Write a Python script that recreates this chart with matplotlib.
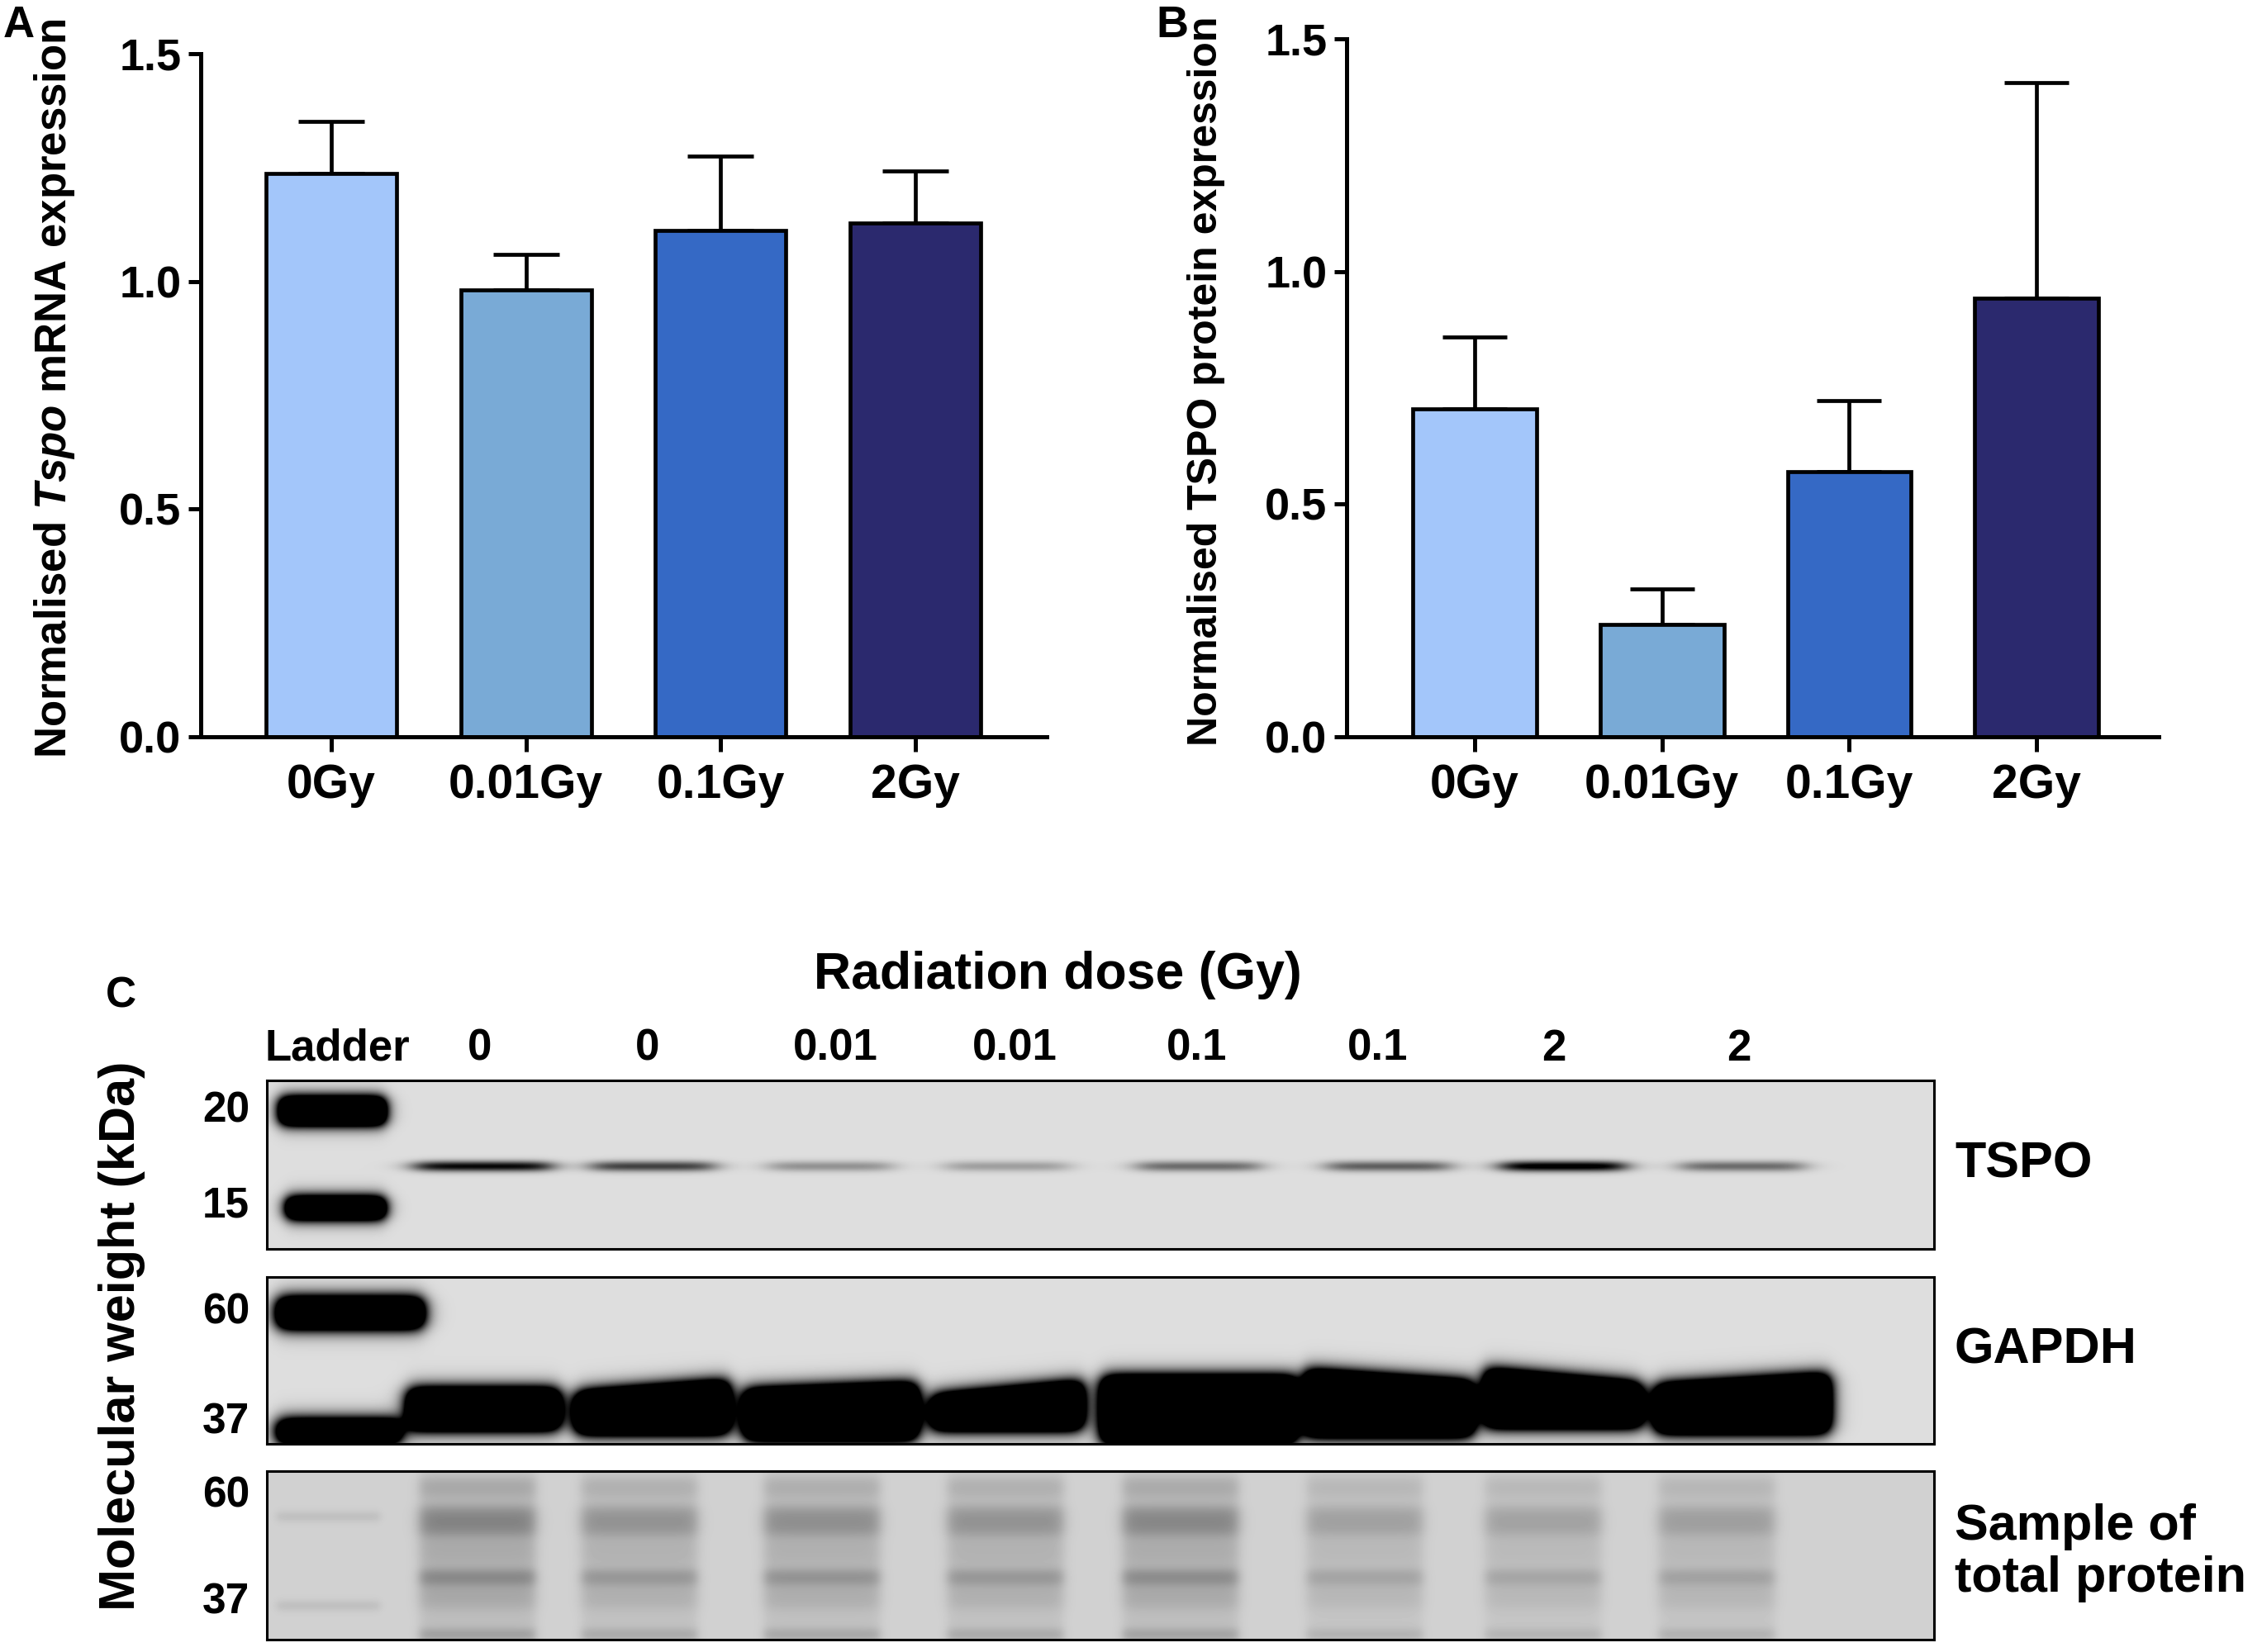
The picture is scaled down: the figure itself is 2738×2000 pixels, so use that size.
import numpy as np
import matplotlib
matplotlib.use("Agg")
import matplotlib.pyplot as plt

plt.rcParams['font.family'] = ['Liberation Sans', 'DejaVu Sans']
plt.rcParams['font.weight'] = 'bold'
plt.rcParams['mathtext.fontset'] = 'custom'
plt.rcParams['mathtext.rm'] = 'Liberation Sans:bold'
plt.rcParams['mathtext.it'] = 'Liberation Sans:italic:bold'
plt.rcParams['mathtext.bf'] = 'Liberation Sans:bold'
plt.rcParams['mathtext.bfit'] = 'Liberation Sans:italic:bold'

# ---------------- data ----------------
doses = ['0Gy', '0.01Gy', '0.1Gy', '2Gy']
mrna_mean = [1.237, 0.982, 1.111, 1.128]
mrna_sem = [0.114, 0.077, 0.164, 0.114]
prot_mean = [0.705, 0.241, 0.569, 0.942]
prot_sem = [0.155, 0.077, 0.153, 0.464]
bar_colors = ['#a3c6fa', '#79aad6', '#3569c5', '#2b296e']
yticks = [0.0, 0.5, 1.0, 1.5]

lane_labels = ['Ladder', '0', '0', '0.01', '0.01', '0.1', '0.1', '2', '2']
# relative band intensities read from the blot (0 = none, 1 = saturated)
tspo_intensity = [0.85, 0.62, 0.30, 0.25, 0.45, 0.50, 0.95, 0.45]
total_intensity = [1.0, 0.80, 0.85, 0.80, 0.95, 0.62, 0.60, 0.65]
mw_tspo = ['20', '15']
mw_gapdh = ['60', '37']
mw_total = ['60', '37']
blot_names = ['TSPO', 'GAPDH', 'Sample of\ntotal protein']

# ---------------- layout helpers ----------------
W, H = 2738, 2000
fig = plt.figure(figsize=(W / 100, H / 100), dpi=100)


def fx(x):
    return x / W


def fy(y):
    return 1 - y / H


def ax_px(l, t, r, b):
    return fig.add_axes([fx(l), fy(b), fx(r) - fx(l), (b - t) / H])


def bar_panel(ax, means, sems, xlim, width, capsize):
    x = np.arange(len(doses))
    ax.bar(x, means, width, color=bar_colors, edgecolor='black',
           linewidth=3.4, zorder=2)
    ax.errorbar(x, means, yerr=[np.zeros(len(means)), sems], fmt='none',
                ecolor='black', elinewidth=3.4, capsize=capsize,
                capthick=3.4, zorder=1)
    ax.set_xlim(*xlim)
    ax.set_ylim(0, 1.5)
    ax.set_yticks(yticks)
    ax.set_yticklabels([f'{v:.1f}' for v in yticks], fontsize=39,
                       fontweight='bold')
    ax.set_xticks(x)
    ax.set_xticklabels(doses, fontsize=41, fontweight='bold')
    for s in ['top', 'right']:
        ax.spines[s].set_visible(False)
    for s in ['left', 'bottom']:
        ax.spines[s].set_linewidth(3.6)
    ax.tick_params(axis='y', length=11, width=3.6, pad=6)
    ax.tick_params(axis='x', length=13, width=3.6, pad=10)


axA = ax_px(243, 65, 1267, 892)
bar_panel(axA, mrna_mean, mrna_sem, (-0.67, 3.675), 0.67, 29)
axB = ax_px(1630, 47, 2613, 892)
bar_panel(axB, prot_mean, prot_sem, (-0.684, 3.652), 0.66, 28)

fig.text(fx(4), fy(45), 'A', fontsize=38, fontweight='bold', va='baseline', ha='left')
fig.text(fx(1399), fy(45), 'B', fontsize=39, fontweight='bold', va='baseline', ha='left')
fig.text(fx(66), fy(470), r'Normalised $\mathbfit{Tspo}$ mRNA expression',
         fontsize=38, fontweight='bold', rotation=90, ha='center', va='center')
fig.text(fx(1460), fy(461), 'Normalised TSPO protein expression',
         fontsize=36, fontweight='bold', rotation=90, ha='center', va='center')

# ---------------- western blot panel ----------------
BX0, BX1 = 323, 2341
boxes = [(1308, 1512), (1546, 1748), (1781, 1985)]
lane_x = [585, 790, 1005, 1219, 1451, 1681, 1892, 2109]
label_x = [408, 581, 784, 1011, 1228, 1449, 1668, 1881, 2105]
total_x = [578, 774, 995, 1217, 1429, 1652, 1868, 2078]
gapdh_left = [494, 697, 901, 1128, 1334, 1580, 1798, 2004]
gapdh_right = [677, 882, 1110, 1310, 1568, 1783, 1987, 2214]
gapdh_top_l = [137, 141, 138, 145, 122, 114, 113, 132]
gapdh_top_r = [137, 127, 130, 128, 122, 128, 130, 119]
gapdh_bot = [183, 188, 195, 183, 200, 191, 180, 187]


def sig(z):
    return 1.0 / (1.0 + np.exp(-z))


def grid(t, b):
    xs = np.arange(BX0, BX1) + 0.5
    ys = np.arange(0, b - t) + 0.5
    return np.meshgrid(xs, ys)


def rect_band(X, Y, xa, xb, yt, yb, soft):
    return (sig((X - xa) / soft) * sig((xb - X) / soft) *
            sig((Y - yt) / soft) * sig((yb - Y) / soft))


def show_blot(t, b, D, bg):
    ax = ax_px(BX0, t, BX1, b)
    img = bg * (1 - np.clip(D, 0, 1))
    ax.imshow(img, cmap='gray', vmin=0, vmax=1, aspect='auto',
              extent=[BX0, BX1, b - t, 0], interpolation='bilinear')
    ax.set_xticks([])
    ax.set_yticks([])
    for s in ax.spines.values():
        s.set_linewidth(2.2)
    return ax


# TSPO blot
t, b = boxes[0]
X, Y = grid(t, b)
D = np.zeros_like(X)
D += 3 * rect_band(X, Y, 339, 466, 22, 52, 5)
D += 3 * rect_band(X, Y, 347, 466, 143, 166, 5)
for i, cx in enumerate(lane_x):
    hw = 82 if i == 0 else 74
    prof_x = sig((X - (cx - hw)) / 10) * sig(((cx + hw) - X) / 10)
    prof_y = np.exp(-0.5 * ((Y - 104) / 4.5) ** 2)
    D += tspo_intensity[i] * 1.15 * prof_x * prof_y
show_blot(t, b, D, 0.87)

# GAPDH blot
t, b = boxes[1]
X, Y = grid(t, b)
D = np.zeros_like(X)
D += 3 * rect_band(X, Y, 336, 512, 27, 60, 6)
D += 3 * rect_band(X, Y, 336, 485, 175, 199, 6)
for i in range(len(lane_x)):
    xa, xb = gapdh_left[i], gapdh_right[i]
    frac = np.clip((X - xa) / (xb - xa), 0, 1)
    ytop = gapdh_top_l[i] + (gapdh_top_r[i] - gapdh_top_l[i]) * frac
    D += 3 * (sig((X - xa) / 6) * sig((xb - X) / 6) *
              sig((Y - ytop) / 6) * sig((gapdh_bot[i] - Y) / 6))
show_blot(t, b, D, 0.87)

# Total protein blot
t, b = boxes[2]
X, Y = grid(t, b)
D = np.zeros_like(X)
D += 0.13 * rect_band(X, Y, 335, 460, 51, 59, 3)
D += 0.13 * rect_band(X, Y, 335, 460, 159, 167, 3)
for i, cx in enumerate(total_x):
    a = total_intensity[i]
    xa, xb = cx - 70, cx + 70
    D += 0.09 * a * rect_band(X, Y, xa, xb, 0, 210, 4)
    D += 0.12 * a * rect_band(X, Y, xa, xb, 10, 30, 4)
    D += 0.30 * a * rect_band(X, Y, xa, xb, 44, 78, 5)
    D += 0.10 * a * rect_band(X, Y, xa, xb, 84, 112, 5)
    D += 0.30 * a * rect_band(X, Y, xa, xb, 120, 137, 4)
    D += 0.12 * a * rect_band(X, Y, xa, xb, 140, 165, 5)
    D += 0.18 * a * rect_band(X, Y, xa, xb, 192, 204, 3)
show_blot(t, b, D, 0.82)

# blot texts
fig.text(fx(146), fy(1220), 'C', fontsize=37, fontweight='bold',
         ha='center', va='baseline')
fig.text(fx(1280), fy(1180), 'Radiation dose (Gy)', fontsize=45,
         fontweight='bold', ha='center', va='center')
for lx, lab in zip(label_x, lane_labels):
    fig.text(fx(lx), fy(1270), lab, fontsize=38, fontweight='bold',
             ha='center', va='center')
fig.text(fx(148), fy(1617), 'Molecular weight (kDa)', fontsize=44,
         fontweight='bold', rotation=90, ha='center', va='center')
mw_pos = [(1345, mw_tspo[0]), (1460, mw_tspo[1]), (1589, mw_gapdh[0]),
          (1722, mw_gapdh[1]), (1811, mw_total[0]), (1940, mw_total[1])]
for yy, lab in mw_pos:
    fig.text(fx(302), fy(yy), lab, fontsize=37, fontweight='bold',
             ha='right', va='center')
fig.text(fx(2366), fy(1410), blot_names[0], fontsize=44, fontweight='bold',
         ha='left', va='center')
fig.text(fx(2366), fy(1635), blot_names[1], fontsize=44, fontweight='bold',
         ha='left', va='center')
fig.text(fx(2366), fy(1880), blot_names[2], fontsize=44, fontweight='bold',
         ha='left', va='center', linespacing=1.15)

fig.savefig('out.png', dpi=100, facecolor='white')
